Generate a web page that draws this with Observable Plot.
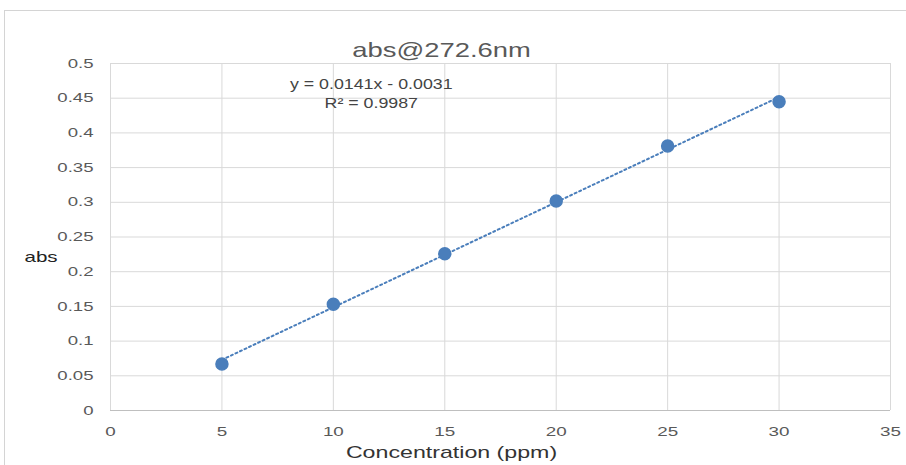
<!DOCTYPE html>
<html>
<head>
<meta charset="utf-8">
<script src="https://cdn.jsdelivr.net/npm/d3@7"></script>
<script src="https://cdn.jsdelivr.net/npm/@observablehq/plot@0.6"></script>
<style>
  html, body { margin: 0; padding: 0; background: #fff; }
  #wrap { position: relative; width: 906px; height: 465px; overflow: hidden; }
  #frame { position: absolute; left: 4px; top: 10px; width: 1000px; height: 600px;
           border-left: 1px solid #d4d4d4; border-top: 1px solid #d4d4d4; }
  #chart { position: absolute; left: 0; top: 0; }
</style>
</head>
<body>
<div id="wrap"><div id="frame"></div><div id="chart"></div></div>
<script>
const concentration = [5, 10, 15, 20, 25, 30];
const absorbance = [0.067, 0.153, 0.226, 0.302, 0.381, 0.445];
const xTicks = [0, 5, 10, 15, 20, 25, 30, 35];
const yTicks = [0, 0.05, 0.1, 0.15, 0.2, 0.25, 0.3, 0.35, 0.4, 0.45, 0.5];
const titleText = "abs@272.6nm";
const xLabel = "Concentration (ppm)";
const yLabel = "abs";
const equationLines = ["y = 0.0141x - 0.0031", "R² = 0.9987"];
const equationPos = {x: 11.7, y: 0.469};

const data = concentration.map((c, i) => ({x: c, y: absorbance[i]}));
const font = "'Liberation Sans', Arial, sans-serif";
const blue = "#4a7ebb";

const plot = Plot.plot({
  width: 906,
  height: 465,
  marginLeft: 110,
  marginRight: 16,
  marginTop: 63,
  marginBottom: 55,
  style: {fontFamily: font, background: "transparent", overflow: "visible"},
  x: {domain: [0, 35], ticks: xTicks, label: null},
  y: {domain: [0, 0.5], ticks: yTicks, label: null},
  marks: [
    Plot.gridX(xTicks, {stroke: "#d9d9d9", strokeOpacity: 1}),
    Plot.gridY(yTicks, {stroke: "#d9d9d9", strokeOpacity: 1}),
    Plot.ruleY([0], {stroke: "#bfbfbf"}),
    Plot.axisX(xTicks, {tickSize: 0, tickPadding: 16, fontSize: 13, fill: "#595959", tickFormat: d => String(d)}),
    Plot.axisY(yTicks, {tickSize: 0, tickPadding: 17, fontSize: 13, fill: "#595959", tickFormat: d => String(+d.toFixed(2))}),
    Plot.linearRegressionY(data, {x: "x", y: "y", ci: 0, stroke: blue, strokeWidth: 2, strokeDasharray: "2,3"}),
    Plot.dot(data, {x: "x", y: "y", r: 6, fill: blue, stroke: blue}),
    Plot.text([titleText], {frameAnchor: "top", dy: -21, dx: -59, fontSize: 20, fill: "#595959"}),
    Plot.text([xLabel], {frameAnchor: "bottom", dy: 47, dx: -49, fontSize: 16, fill: "#333"}),
    Plot.text([yLabel], {frameAnchor: "left", textAnchor: "start", dx: -86, dy: 20, fontSize: 15, fill: "#222"}),
    Plot.text([equationLines[0]], {x: () => equationPos.x, y: () => equationPos.y, fontSize: 14, fill: "#444"}),
    Plot.text([equationLines[1]], {x: () => equationPos.x, y: () => equationPos.y, dy: 19, fontSize: 14, fill: "#444"})
  ]
});

// horizontal stretch of glyphs, as in the reference picture
const stretchByText = new Map([
  [titleText, 1.37], [xLabel, 1.45], [yLabel, 1.37],
  [equationLines[0], 1.27], [equationLines[1], 1.27]
]);
const stretchByGroup = {"x-axis tick label": 1.45, "y-axis tick label": 1.43};
d3.select(plot).selectAll("text").each(function() {
  const g = this.closest("g[aria-label]");
  let s = g ? stretchByGroup[g.getAttribute("aria-label")] : undefined;
  if (!s) s = stretchByText.get(this.textContent);
  if (!s) return;
  const t = this.getAttribute("transform");
  const x = parseFloat(this.getAttribute("x")) || 0;
  const extra = `translate(${x},0) scale(${s},1) translate(${-x},0)`;
  this.setAttribute("transform", t ? `${t} ${extra}` : extra);
});
document.getElementById("chart").appendChild(plot);
</script>
</body>
</html>
